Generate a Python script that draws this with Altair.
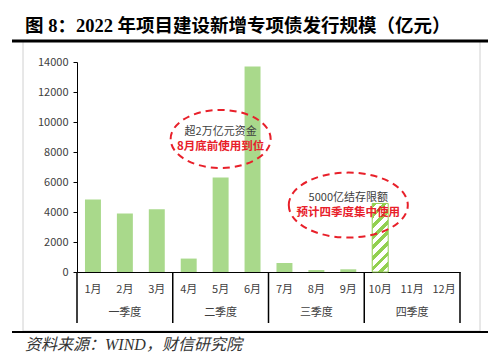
import altair as alt
import pandas as pd

# ---------------- data ----------------
months = ["1月", "2月", "3月", "4月", "5月", "6月", "7月", "8月", "9月", "10月", "11月", "12月"]
issued_months = ["1月", "2月", "3月", "4月", "5月", "6月", "7月", "8月", "9月"]
issued_values = [4840, 3900, 4190, 895, 6300, 13700, 600, 130, 180]
planned_months = ["10月"]
planned_values = [4570]
quarters = ["一季度", "二季度", "三季度", "四季度"]
y_ticks = [0, 2000, 4000, 6000, 8000, 10000, 12000, 14000]

note_gray = ["超2万亿元资金", "5000亿结存限额"]
note_red = ["8月底前使用到位", "预计四季度集中使用"]
note_month = ["5月", "9月"]
note_gray_y = [9340, 4930]
note_red_y = [8340, 3920]
ellipse_y = [8870, 4460]

TITLE = "图 8：2022 年项目建设新增专项债发行规模（亿元）"
FOOTER = "资料来源：WIND，财信研究院"

# ---------------- style ----------------
W, H = 383, 210
GREEN = "#a9d98b"
HATCH = "#92d050"
RED = "#e8202a"
TXT = "#404040"
FONT = "Noto Sans CJK SC"
SERIF = "Liberation Serif, Noto Sans CJK SC"

month_scale = alt.Scale(type="band", domain=months, paddingInner=0.5, paddingOuter=0.25)
q_scale = alt.Scale(type="band", domain=quarters, paddingInner=0, paddingOuter=0)
y_scale = alt.Scale(domain=[0, 14000], nice=False)
y_axis = alt.Axis(title=None, values=y_ticks, format="d", tickSize=4,
                  tickColor="black", domainColor="black", labelPadding=5,
                  labelFontSize=11, labelColor=TXT, labelFont=FONT, grid=False,
                  labelOverlap=False)

df_issued = pd.DataFrame({"month": issued_months, "value": issued_values})
df_planned = pd.DataFrame({"month": planned_months, "value": planned_values})
df_q = pd.DataFrame({"q": quarters})
df_notes = pd.DataFrame({"month": note_month, "gray": note_gray, "red": note_red,
                         "gy": note_gray_y, "ry": note_red_y, "ey": ellipse_y})
one = pd.DataFrame({"k": [0]})

x_noaxis = alt.X("month:N", scale=month_scale, axis=None, sort=months)


def yq(field):
    return alt.Y(field, scale=y_scale, axis=y_axis)


bars = alt.Chart(df_issued).mark_bar(color=GREEN).encode(
    x=alt.X("month:N", scale=month_scale, sort=months,
            axis=alt.Axis(title=None, ticks=False, labelAngle=0, labelPadding=11,
                          labelFontSize=11, labelColor=TXT, labelFont=FONT,
                          domainColor="black", domainWidth=1, labelOverlap=False)),
    y=yq("value:Q"),
)

# hatch pattern via hard-stop linear gradient
n = 8
stops = []
for i in range(n):
    a, b, c = i / n, (i + 0.45) / n, (i + 1) / n
    stops += [alt.GradientStop(color=HATCH, offset=a), alt.GradientStop(color=HATCH, offset=b),
              alt.GradientStop(color="white", offset=b), alt.GradientStop(color="white", offset=c)]
hatch_fill = alt.LinearGradient(gradient="linear", stops=stops, x1=0, y1=0, x2=0.275, y2=1.17)

hatched = alt.Chart(df_planned).mark_bar(fill=hatch_fill, stroke=HATCH, strokeWidth=1).encode(
    x=x_noaxis, y=yq("value:Q")
)

ell1 = alt.Chart(df_notes[df_notes.month == "5月"]).mark_point(
    shape="M -1 0 A 1 0.58 0 1 1 1 0 A 1 0.58 0 1 1 -1 0 Z", size=10000,
    filled=False, stroke=RED, strokeWidth=2, strokeDash=[7, 5], opacity=1
).encode(x=x_noaxis, y=yq("ey:Q"))

ell2 = alt.Chart(df_notes[df_notes.month == "9月"]).mark_point(
    shape="M -1 0 A 1 0.546 0 1 1 1 0 A 1 0.546 0 1 1 -1 0 Z", size=14161,
    filled=False, stroke=RED, strokeWidth=2, strokeDash=[7, 5], opacity=1
).encode(x=x_noaxis, y=yq("ey:Q"))

gray_txt = alt.Chart(df_notes).mark_text(fontSize=11, color=TXT, font=FONT, baseline="middle").encode(
    x=x_noaxis, y=yq("gy:Q"), text="gray:N")
red_txt = alt.Chart(df_notes).mark_text(fontSize=11.5, color=RED, font=FONT, fontWeight="bold",
                                         baseline="middle").encode(
    x=x_noaxis, y=yq("ry:Q"), text="red:N")

qrules = alt.Chart(df_q).mark_rule(color="black", strokeWidth=1.5).encode(
    x=alt.X("q:N", scale=q_scale, axis=None, sort=quarters, bandPosition=0),
    y=alt.value(H), y2=alt.value(H + 51))
qend = alt.Chart(df_q[df_q.q == "四季度"]).mark_rule(color="black", strokeWidth=1.5).encode(
    x=alt.X("q:N", scale=q_scale, axis=None, sort=quarters, bandPosition=1),
    y=alt.value(H), y2=alt.value(H + 51))
qlabels = alt.Chart(df_q).mark_text(fontSize=11, color=TXT, font=FONT, baseline="middle").encode(
    x=alt.X("q:N", scale=q_scale, axis=None, sort=quarters),
    y=alt.value(H + 41), text="q:N")

base = alt.Chart(one)
frame = base.mark_rect(fillOpacity=0, stroke="#d0d0d0", strokeWidth=1).encode(
    x=alt.value(-54), x2=alt.value(403), y=alt.value(-21), y2=alt.value(269))
top_line = base.mark_rule(color="black", strokeWidth=3).encode(
    x=alt.value(-65), x2=alt.value(411), y=alt.value(-21))
bottom_line = base.mark_rule(color="black", strokeWidth=2).encode(
    x=alt.value(-65), x2=alt.value(411), y=alt.value(270))
title = base.mark_text(text=TITLE, align="left", baseline="middle", fontSize=18.5,
                       fontWeight="bold", font=SERIF, color="black").encode(
    x=alt.value(-52), y=alt.value(-36))
footer = base.mark_text(text=FOOTER, align="left", baseline="alphabetic", fontSize=16,
                        fontStyle="italic", font=SERIF, color="#333333").encode(
    x=alt.value(-52), y=alt.value(288))

chart = alt.layer(
    frame, bars, hatched, ell1, ell2, gray_txt, red_txt, qrules, qend, qlabels,
    top_line, bottom_line, title, footer
).resolve_scale(x="independent").properties(
    width=W, height=H,
    padding={"left": 69, "top": 54, "right": 28, "bottom": 81},
    autosize=alt.AutoSizeParams(type="none"),
).configure_view(stroke=None)

chart.save("out.html", embed_options={"renderer": "svg", "actions": False})
